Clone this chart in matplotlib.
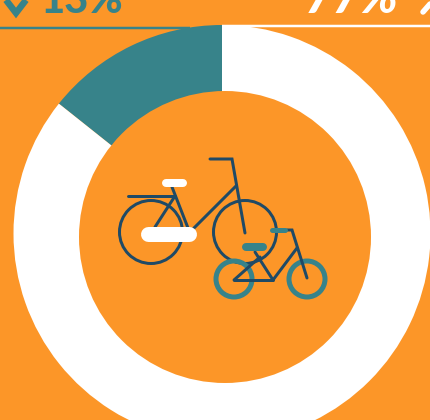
"""Donut with cropped percent labels and two bicycle icons, drawn in pixel coordinates."""
import matplotlib
matplotlib.use("Agg")
import matplotlib.pyplot as plt
from matplotlib.patches import Circle

ORANGE = "#FC9628"
TEAL = "#37838A"
NAVY = "#1F4A66"
WHITE = "#FFFFFF"
W, H = 430, 420

share_labels = ["13%", "77%"]
share_values = [14.3, 85.7]

def Y(y):
    return H - y

def line(ax, pts, color=NAVY, lw=3.0, cap="round", z=5):
    ax.plot([p[0] for p in pts], [Y(p[1]) for p in pts], color=color, lw=lw * 0.72,
            solid_capstyle=cap, solid_joinstyle="miter", zorder=z)

def wheel(ax, x, y, r, color, lw, z=4):
    ax.add_patch(Circle((x, Y(y)), r, facecolor="none", edgecolor=color, lw=lw * 0.72, zorder=z))

fig = plt.figure(figsize=(W / 100, H / 100), dpi=100, facecolor=ORANGE)
ax = fig.add_axes([0, 0, 1, 1])
ax.pie(share_values, colors=[TEAL, WHITE], startangle=90, counterclock=True,
       center=(222, Y(233.5)), radius=208.5, frame=True, wedgeprops=dict(linewidth=0))
ax.add_patch(Circle((225, Y(237)), 146, facecolor=ORANGE, edgecolor="none", zorder=3))
ax.set_xlim(0, W); ax.set_ylim(0, H); ax.set_aspect("equal"); ax.axis("off")

# top rules and the cropped labels
line(ax, [(0, 28), (190, 28)], TEAL, 2.5, "butt", 2)
line(ax, [(222, 26), (430, 26)], WHITE, 2.5, "butt", 2)
ax.text(41, Y(13), share_labels[0], fontsize=30, color=TEAL, fontweight="black",
        family="Lato", va="baseline")
ax.text(305, Y(13), share_labels[1], fontsize=35, color=WHITE, fontweight="black",
        family="Lato", style="italic", va="baseline")
line(ax, [(6, 0), (16, 13), (26, 0)], TEAL, 6.5, "butt")
line(ax, [(423, 12), (430, 4)], WHITE, 5.5, "round")

# big bicycle
wheel(ax, 151, 232, 31.5, NAVY, 3)
wheel(ax, 245, 232, 31.5, NAVY, 3)
line(ax, [(210, 159), (232, 159), (245, 233)])
line(ax, [(236, 186), (193, 229)])
line(ax, [(128, 196), (175, 196)])
line(ax, [(172, 187), (188, 228)])
line(ax, [(175, 196), (155, 227)])
line(ax, [(166, 183), (183, 183)], WHITE, 8, z=6)
line(ax, [(148, 234), (189, 234)], WHITE, 15, z=6)

# small bicycle
wheel(ax, 234, 279, 18, TEAL, 5, 7)
wheel(ax, 307, 279, 18, TEAL, 5, 7)
line(ax, [(287, 230), (292, 230), (307, 278)], z=8)
line(ax, [(297, 248), (273, 280)], z=8)
line(ax, [(234, 280), (273, 280)], z=8)
line(ax, [(234, 280), (260, 257)], z=8)
line(ax, [(255, 252), (273, 280)], z=8)
line(ax, [(246, 247), (263, 247)], TEAL, 8, z=9)
line(ax, [(272, 230), (285, 230)], TEAL, 5, z=9)

fig.savefig("out.png", dpi=100, facecolor=ORANGE)
